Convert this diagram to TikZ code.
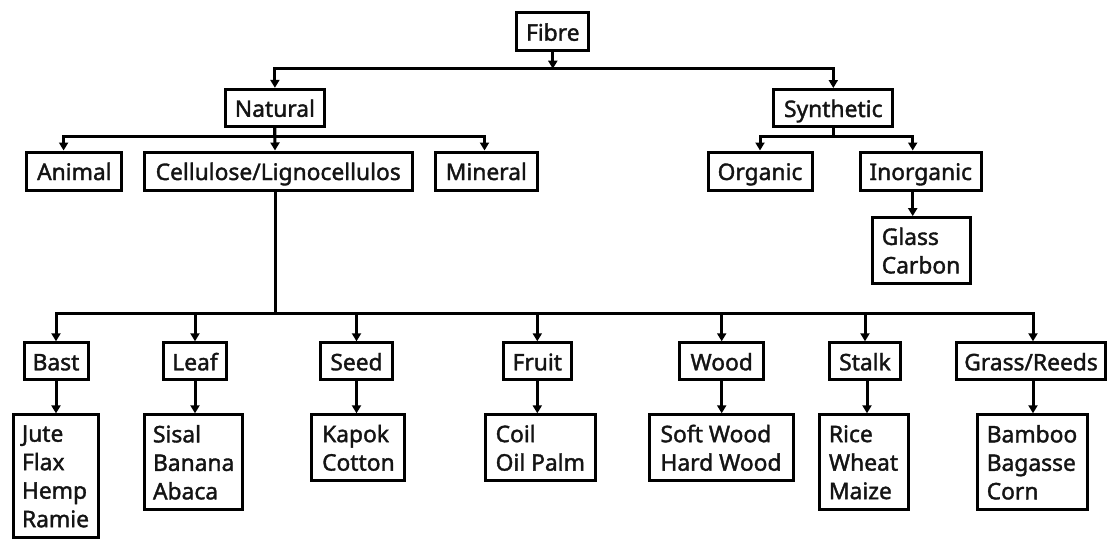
\documentclass[tikz,border=0pt]{standalone}
\usepackage{fontspec}
\setmainfont{Noto Sans}
\newfontfamily\boxfont{Noto Sans}[FakeBold=1.6]
\usetikzlibrary{arrows.meta}
\begin{document}
\begin{tikzpicture}[x=1pt,y=-1pt,
  box/.style={draw=black, line width=3pt, inner sep=0pt, align=left,
    font=\boxfont\fontsize{22.8}{28.5}\selectfont, text=black!92},
  one/.style={box, text height=20pt, text depth=2pt},
  arr/.style={line width=3pt, -{Triangle[length=8pt,width=9pt]}},
]
\useasboundingbox[fill=white] (0,0) rectangle (1108,538);

% level 1-2
\node[one, minimum width=72pt, minimum height=38pt] (fibre) at (552.8,31.7) {Fibre};
\node[one, minimum width=99pt, minimum height=37pt] (natural) at (274.9,107.8) {Natural};
\node[one, minimum width=119pt, minimum height=37pt] (synthetic) at (833.3,108) {Synthetic};

% level 3
\node[one, minimum width=95pt, minimum height=38pt] (animal) at (74.4,171) {Animal};
\node[one, minimum width=268pt, minimum height=38pt] (cellulose) at (278.2,171) {Cellulose/Lignocellulos};
\node[one, minimum width=102pt, minimum height=38pt] (mineral) at (486.3,171) {Mineral};
\node[one, minimum width=104pt, minimum height=38pt] (organic) at (760,171) {Organic};
\node[one, minimum width=121pt, minimum height=38pt] (inorganic) at (920.7,171) {Inorganic};
\node[box, minimum width=98pt, minimum height=66pt] (glass) at (921,250.6) {Glass\\Carbon};

% level 4
\node[one, minimum width=64pt, minimum height=37pt] (bast) at (56,361.3) {Bast};
\node[one, minimum width=63pt, minimum height=37pt] (leaf) at (195,361.3) {Leaf};
\node[one, minimum width=72pt, minimum height=37pt] (seed) at (356.5,361.3) {Seed};
\node[one, minimum width=68pt, minimum height=37pt] (fruit) at (537.3,361.3) {Fruit};
\node[one, minimum width=84pt, minimum height=37pt] (wood) at (721.7,361.3) {Wood};
\node[one, minimum width=71pt, minimum height=37pt] (stalk) at (865,361.3) {Stalk};
\node[one, minimum width=149pt, minimum height=37pt] (grass) at (1031,361.3) {Grass/Reeds};

% level 5
\node[box, minimum width=85pt, minimum height=123pt] (jute) at (55.5,476.4) {Jute\\Flax\\Hemp\\Ramie};
\node[box, minimum width=98pt, minimum height=95pt] (sisal) at (193.7,462.3) {Sisal\\Banana\\Abaca};
\node[box, minimum width=93pt, minimum height=66pt] (kapok) at (358.4,447.8) {Kapok\\Cotton};
\node[box, minimum width=110pt, minimum height=66pt] (coil) at (540.3,447.8) {Coil\\Oil Palm};
\node[box, minimum width=144pt, minimum height=66pt] (soft) at (721,447.8) {Soft Wood\\Hard Wood};
\node[box, minimum width=89pt, minimum height=95pt] (rice) at (863.5,462.3) {Rice\\Wheat\\Maize};
\node[box, minimum width=110pt, minimum height=95pt] (bamboo) at (1032,462.3) {Bamboo\\Bagasse\\Corn};

% junction rows
\coordinate (j1) at (0,68.7);
\coordinate (j2) at (0,136);
\coordinate (j3) at (0,313.3);

% Fibre
\draw[arr] (fibre.south) -- (fibre.south |- j1);
\draw[arr] (fibre.south |- j1) -| (natural.north);
\draw[arr] (fibre.south |- j1) -| (synthetic.north);

% Natural
\draw[arr] (natural.south) -- (natural.south |- j2) -| ([xshift=-10.8pt]animal.north);
\draw[arr] (natural.south) -- ([xshift=-3.2pt]cellulose.north);
\draw[arr] (natural.south |- j2) -| ([xshift=-1.8pt]mineral.north);

% Synthetic
\draw[arr] (synthetic.south) -- (synthetic.south |- j2) -| (organic.north);
\draw[arr] (synthetic.south |- j2) -| ([xshift=-8pt]inorganic.north);
\draw[arr] ([xshift=-8pt]inorganic.south) -- ([xshift=-8.3pt]glass.north);

% Cellulose branches
\draw[arr] ([xshift=-3.2pt]cellulose.south) -- ([xshift=-3.2pt]cellulose.south |- j3) -| (bast.north);
\foreach \c in {leaf,seed,fruit,wood,stalk}
  \draw[arr] ([xshift=-3.2pt]cellulose.south |- j3) -| (\c.north);
\draw[arr] ([xshift=-3.2pt]cellulose.south |- j3) -| ([xshift=2pt]grass.north);

% level 4 -> level 5
\draw[arr] (bast.south) -- (bast.south |- jute.north);
\draw[arr] (leaf.south) -- (leaf.south |- sisal.north);
\draw[arr] (seed.south) -- (seed.south |- kapok.north);
\draw[arr] (fruit.south) -- (fruit.south |- coil.north);
\draw[arr] (wood.south) -- (wood.south |- soft.north);
\draw[arr] ([xshift=2pt]stalk.south) -- ([xshift=2pt]stalk.south |- rice.north);
\draw[arr] ([xshift=2pt]grass.south) -- ([xshift=2pt]grass.south |- bamboo.north);
\end{tikzpicture}
\end{document}
